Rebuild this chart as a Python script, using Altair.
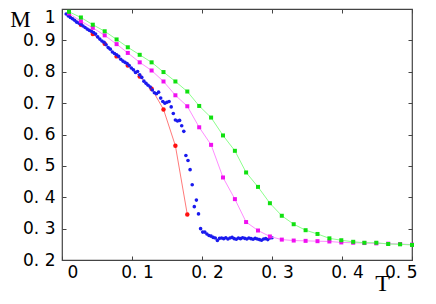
import altair as alt
import pandas as pd

# ---- data ----
T_GRID = [0.010, 0.027, 0.044, 0.061, 0.078, 0.094, 0.111, 0.128, 0.145, 0.162,
          0.179, 0.196, 0.213, 0.230, 0.247, 0.263, 0.280, 0.297, 0.314, 0.331,
          0.348, 0.365, 0.382, 0.399, 0.416, 0.432, 0.449, 0.466, 0.483, 0.500]

M_GREEN = [0.991, 0.973, 0.950, 0.929, 0.903, 0.878, 0.854, 0.830, 0.799, 0.769,
           0.737, 0.691, 0.654, 0.597, 0.548, 0.479, 0.433, 0.381, 0.341, 0.314,
           0.295, 0.283, 0.269, 0.263, 0.258, 0.255, 0.255, 0.251, 0.250, 0.248]

M_MAGENTA = [0.986, 0.961, 0.940, 0.916, 0.888, 0.860, 0.830, 0.804, 0.769, 0.725,
             0.690, 0.623, 0.567, 0.463, 0.394, 0.321, 0.294, 0.275, 0.265, 0.262,
             0.261, 0.260, 0.259, 0.256, 0.255, 0.254, 0.253, 0.252, 0.251, 0.249]

T_RED = [0.010, 0.027, 0.044, 0.061, 0.078, 0.094, 0.111, 0.128, 0.145, 0.162, 0.179]
M_RED = [0.982, 0.950, 0.920, 0.889, 0.849, 0.820, 0.785, 0.746, 0.680, 0.564, 0.345]

T_BLUE = [0.006, 0.009, 0.012, 0.015, 0.018, 0.021, 0.024, 0.027, 0.030,
          0.033, 0.036, 0.039, 0.042, 0.045, 0.048, 0.051, 0.054, 0.057, 0.060,
          0.063, 0.066, 0.069, 0.072, 0.075, 0.078, 0.081, 0.084, 0.087, 0.090,
          0.093, 0.096, 0.099, 0.102, 0.105, 0.108, 0.111, 0.114, 0.117, 0.120,
          0.123, 0.126, 0.129, 0.132, 0.135, 0.138, 0.141, 0.144, 0.147, 0.150,
          0.153, 0.156, 0.159, 0.162, 0.165, 0.168, 0.171, 0.174, 0.177, 0.180,
          0.183, 0.186, 0.189, 0.192, 0.195, 0.198, 0.201, 0.204, 0.207, 0.210,
          0.213, 0.216, 0.219, 0.222, 0.225, 0.228, 0.231, 0.234, 0.237, 0.240,
          0.243, 0.246, 0.249, 0.252, 0.255, 0.258, 0.261, 0.264, 0.267, 0.270,
          0.273, 0.276, 0.279, 0.282, 0.285, 0.288, 0.291, 0.294, 0.297, 0.300]
M_BLUE = [0.984, 0.978, 0.973, 0.969, 0.964, 0.958, 0.955, 0.951, 0.946,
          0.941, 0.936, 0.932, 0.929, 0.925, 0.920, 0.911, 0.904, 0.898, 0.894,
          0.886, 0.877, 0.872, 0.863, 0.858, 0.854, 0.849, 0.840, 0.834, 0.830,
          0.826, 0.820, 0.812, 0.806, 0.798, 0.801, 0.790, 0.782, 0.770, 0.763,
          0.757, 0.751, 0.742, 0.733, 0.730, 0.735, 0.716, 0.705, 0.700, 0.703,
          0.705, 0.688, 0.667, 0.646, 0.643, 0.645, 0.628, 0.610, 0.533, 0.517,
          0.488, 0.440, 0.370, 0.391, 0.347, 0.300, 0.289, 0.289, 0.283, 0.278,
          0.276, 0.272, 0.270, 0.262, 0.269, 0.270, 0.268, 0.271, 0.267, 0.270,
          0.272, 0.268, 0.266, 0.270, 0.268, 0.271, 0.269, 0.267, 0.270, 0.268,
          0.266, 0.269, 0.267, 0.265, 0.263, 0.267, 0.268, 0.265, 0.270, 0.271]

X_TICKS = [0, 0.1, 0.2, 0.3, 0.4, 0.5]
Y_TICKS = [0.2, 0.3, 0.4, 0.5, 0.6, 0.7, 0.8, 0.9, 1.0]

green = pd.DataFrame({"T": T_GRID, "M": M_GREEN})
magenta = pd.DataFrame({"T": T_GRID, "M": M_MAGENTA})
red = pd.DataFrame({"T": T_RED, "M": M_RED})
blue = pd.DataFrame({"T": T_BLUE, "M": M_BLUE})

W, H = 350, 251
xs = alt.Scale(domain=[0, 0.5], nice=False, zero=False)
ys = alt.Scale(domain=[0.2, 1.0], nice=False, zero=False)

LBL = "DejaVu Sans"
x_expr = "datum.value == 0 ? '0' : replace(format(datum.value, '.1f'), '.', '. ')"
y_expr = "datum.value == 1 ? '1' : replace(format(datum.value, '.1f'), '.', '. ')"
TICK_COL = "#444444"

x_main = alt.Axis(orient="bottom", values=X_TICKS, labelExpr=x_expr, ticks=False,
                  domain=False, grid=False, labelFont=LBL, labelFontSize=17,
                  labelColor="black", labelPadding=4, labelOffset=5,
                  title="T", titleFont="Liberation Serif", titleFontSize=24,
                  titleFontWeight="normal", titleColor="black", titleX=320,
                  titleY=23, titleAlign="center", titleBaseline="middle")
y_main = alt.Axis(orient="left", values=Y_TICKS, labelExpr=y_expr, ticks=False,
                  domain=False, grid=False, labelFont=LBL, labelFontSize=17,
                  labelColor="black", labelPadding=7,
                  labelOffset={"condition": {"test": "datum.value == 1", "value": 8}, "value": 0},
                  title="M", titleFont="Liberation Serif", titleFontSize=23,
                  titleFontWeight="normal", titleColor="black", titleAngle=0,
                  titleX=-42, titleY=10, titleAlign="center", titleBaseline="middle")

x_in_bottom = alt.Axis(orient="top", offset=-H, values=X_TICKS, labels=False, ticks=True,
                       tickSize=4, tickColor=TICK_COL, domain=False, grid=False, title="")
x_in_top = alt.Axis(orient="bottom", offset=-H, values=X_TICKS, labels=False, ticks=True,
                    tickSize=4, tickColor=TICK_COL, domain=False, grid=False, title="")
y_in_left = alt.Axis(orient="right", offset=-W, values=Y_TICKS, labels=False, ticks=True,
                     tickSize=4, tickColor=TICK_COL, domain=False, grid=False, title="")
y_in_right = alt.Axis(orient="left", offset=-W, values=Y_TICKS, labels=False, ticks=True,
                      tickSize=4, tickColor=TICK_COL, domain=False, grid=False, title="")


def enc(chart, xa=None, ya=None):
    return chart.encode(x=alt.X("T:Q", scale=xs, axis=xa), y=alt.Y("M:Q", scale=ys, axis=ya))


red_line = enc(alt.Chart(red).mark_line(color="#ff7a7a", strokeWidth=1), x_main, y_main)
red_pts = enc(alt.Chart(red).mark_circle(color="#ff1010", size=20, opacity=1), x_in_bottom, y_in_left)
blue_pts = enc(alt.Chart(blue).mark_circle(color="#1a1aee", size=13, opacity=1), x_in_top, y_in_right)
mag_line = enc(alt.Chart(magenta).mark_line(color="#ff8cff", strokeWidth=1))
mag_pts = enc(alt.Chart(magenta).mark_square(color="#f010f0", size=16, opacity=1))
grn_line = enc(alt.Chart(green).mark_line(color="#8cff8c", strokeWidth=1))
grn_pts = enc(alt.Chart(green).mark_square(color="#10e010", size=16, opacity=1))

chart = alt.layer(red_line, red_pts, blue_pts, mag_line, mag_pts, grn_line, grn_pts).resolve_axis(
    x="independent", y="independent"
).properties(
    width=W, height=H,
    padding={"left": 54, "top": 1, "right": 16, "bottom": 36},
    autosize=alt.AutoSizeParams(type="none"),
    background="white",
).configure_view(stroke="#444444", strokeWidth=1.2)

chart.save("out.html", embed_options={"renderer": "svg", "actions": False})
